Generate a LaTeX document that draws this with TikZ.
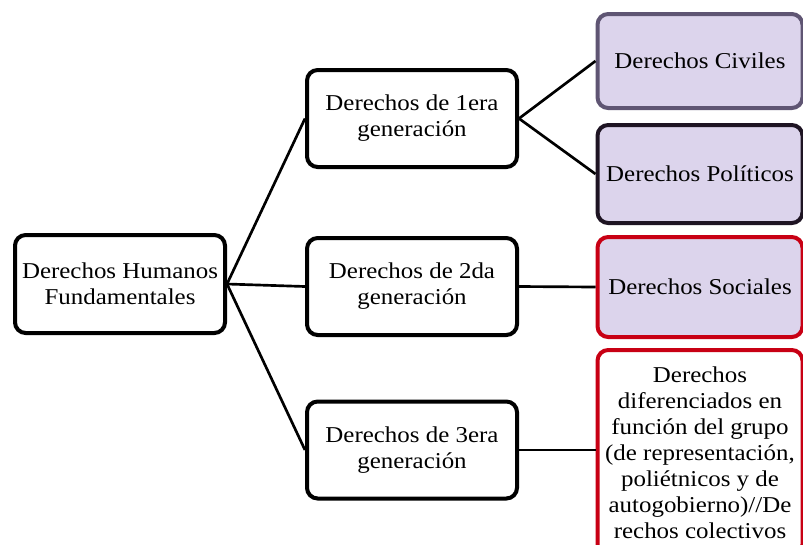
\documentclass[tikz,border=0pt]{standalone}
\usepackage{fontspec}
\setmainfont[FakeStretch=1.1]{Liberation Serif}
\definecolor{lav}{RGB}{220,212,236}
\definecolor{civborder}{RGB}{95,85,115}
\definecolor{polborder}{RGB}{30,20,35}
\definecolor{redborder}{RGB}{200,0,20}
\tikzset{
  box/.style={rectangle, rounded corners=8pt, line width=3pt, draw=black, fill=white,
    align=center, font=\fontsize{17}{19.5}\selectfont, inner sep=2pt},
  lvlone/.style={box, minimum width=210*0.75pt},
  lvltwo/.style={box, minimum width=205*0.75pt, fill=lav},
  conn/.style={line width=2pt, draw=black}
}
\begin{document}
\begin{tikzpicture}[x=0.75pt, y=-0.75pt]
\useasboundingbox (0,0) rectangle (803,544);
\clip (0,0) rectangle (803,544);
\fill[white] (0,0) rectangle (803,544);
\node[lvlone, minimum height=98*0.75pt] (root) at (120,284) {Derechos Humanos\\Fundamentales};
\node[lvlone, minimum height=97*0.75pt] (g1) at (412,118.5) {Derechos de 1era\\generación};
\node[lvlone, minimum height=97*0.75pt] (g2) at (412,286.5) {Derechos de 2da\\generación};
\node[lvlone, minimum height=97*0.75pt] (g3) at (412,450) {Derechos de 3era\\generación};
\node[lvltwo, minimum height=94*0.75pt, draw=civborder] (civ) at (700,61) {Derechos Civiles};
\node[lvltwo, minimum height=98*0.75pt, draw=polborder] (pol) at (700,174) {Derechos Políticos};
\node[lvltwo, minimum height=100*0.75pt, draw=redborder] (soc) at (700,287) {Derechos Sociales};
\node[lvltwo, minimum height=205*0.75pt, draw=redborder, fill=white] (dif) at (700,452.5) {Derechos\\diferenciados en\\función del grupo\\(de representación,\\poliétnicos y de\\autogobierno)//De\\rechos colectivos};
\draw[conn] (root.east) -- (g1.west);
\draw[conn] (root.east) -- (g2.west);
\draw[conn] (root.east) -- (g3.west);
\draw[conn] (g1.east) -- (civ.west);
\draw[conn] (g1.east) -- (pol.west);
\draw[conn] (g2.east) -- (soc.west);
\draw[conn] (g3.east) -- (dif.west |- g3.east);
\end{tikzpicture}
\end{document}
